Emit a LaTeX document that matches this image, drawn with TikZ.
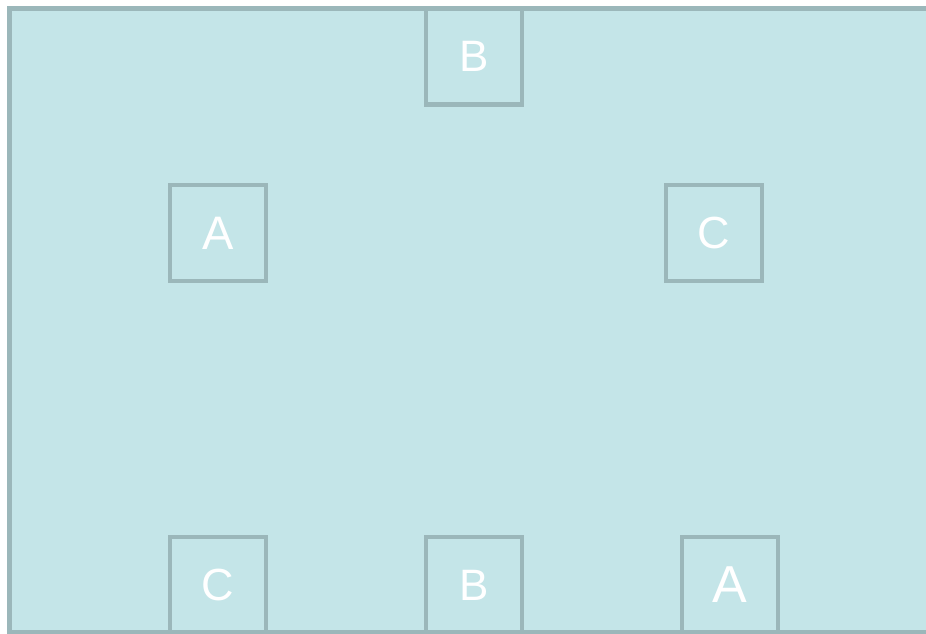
\documentclass[tikz,border=0pt]{standalone}
\usepackage{fontspec}
\setmainfont{Liberation Sans}
\usepackage{xcolor}
\usetikzlibrary{positioning}

\definecolor{poolfill}{HTML}{C4E5E8}
\definecolor{poolline}{HTML}{9BB7BA}

\begin{document}
\begin{tikzpicture}[x=1pt,y=-1pt,
  letterbox/.style={draw=poolline,line width=4.5pt,minimum size=96pt,inner sep=0pt,
    text=white,font=\fontsize{44}{44}\selectfont}]
  \useasboundingbox (0,0) rectangle (926,633);
  \clip (0,0) rectangle (926,633);
  % outer area
  \draw[fill=poolfill,draw=poolline,line width=4.5pt] (9.5,8.5) rectangle (960,632.5);
  % top row
  \node[letterbox] (boxBtop) at (474,56.5) {B};
  % middle row
  \node[letterbox,font=\fontsize{47}{47}\selectfont] (boxAleft) at (218,233) {\raisebox{-1.5pt}{A}};
  \node[letterbox,font=\fontsize{45}{45}\selectfont] (boxCright) at (714,233) {C};
  % bottom row
  \node[letterbox,font=\fontsize{45}{45}\selectfont] (boxCbot) at (218,585) {C};
  \node[letterbox] (boxBbot) at (474,585) {B};
  \node[letterbox,font=\fontsize{52}{52}\selectfont] (boxAbot) at (730,585) {\raisebox{-2pt}{A}};
\end{tikzpicture}
\end{document}
